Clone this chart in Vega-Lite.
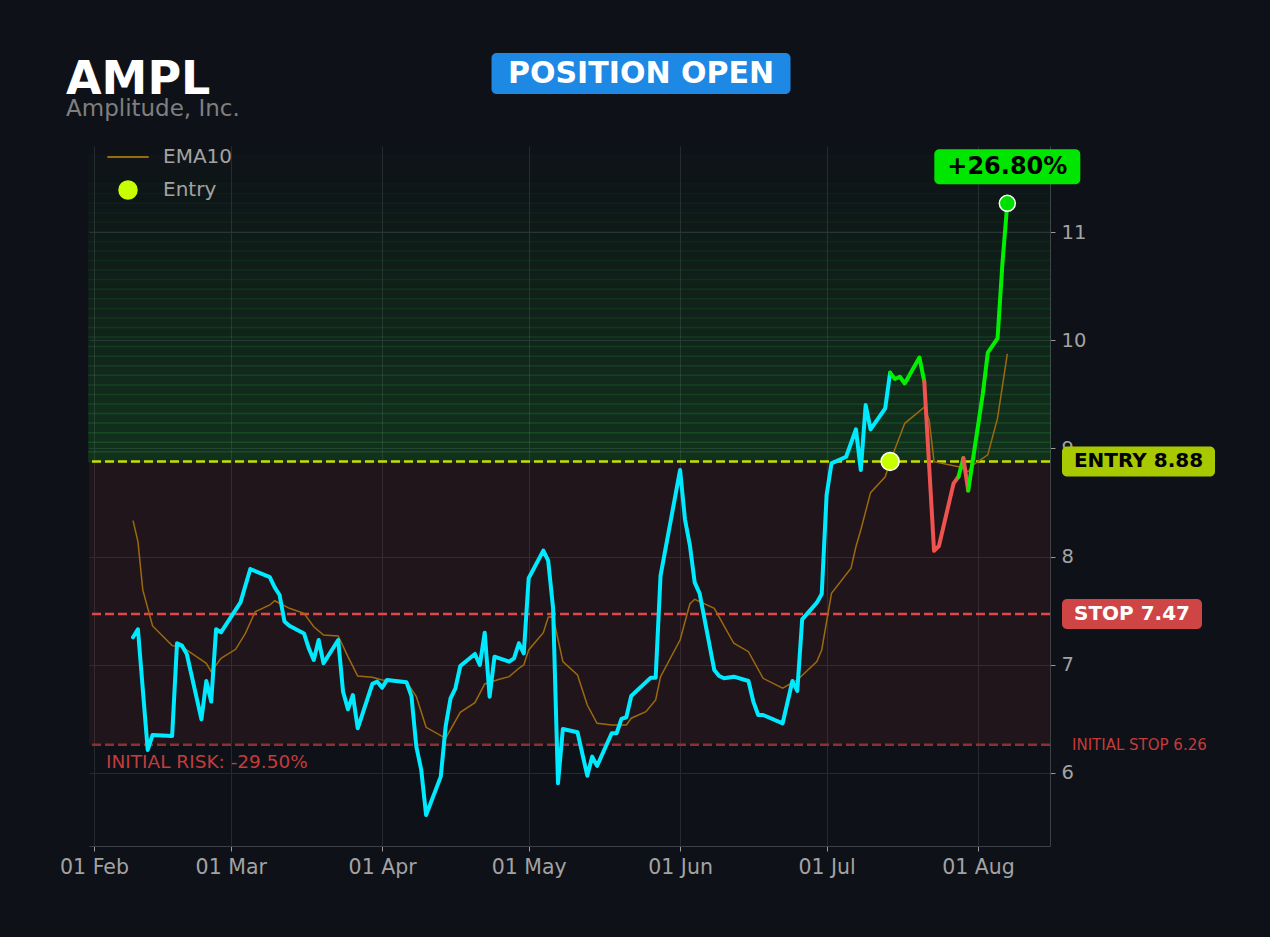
{
  "$schema": "https://vega.github.io/schema/vega-lite/v6.json",
  "width": 961,
  "height": 700,
  "autosize": "none",
  "padding": {"left": 89, "top": 146, "right": 220, "bottom": 91},
  "background": "#0e1117",
  "title": {
    "text": "AMPL",
    "subtitle": "Amplitude, Inc.",
    "anchor": "start",
    "frame": "group",
    "dx": -23,
    "offset": -69,
    "font": "DejaVu Sans",
    "fontSize": 46,
    "fontWeight": "bold",
    "color": "#ffffff",
    "subtitleFont": "DejaVu Sans",
    "subtitleFontSize": 23,
    "subtitleColor": "#7f7f7f",
    "subtitlePadding": -6
  },
  "datasets": {
    "price": [
      {"date": "2025-02-09", "price": 7.254, "seg": "pre"},
      {"date": "2025-02-10", "price": 7.328, "seg": "pre"},
      {"date": "2025-02-12", "price": 6.213, "seg": "pre"},
      {"date": "2025-02-13", "price": 6.351, "seg": "pre"},
      {"date": "2025-02-17", "price": 6.342, "seg": "pre"},
      {"date": "2025-02-18", "price": 7.199, "seg": "pre"},
      {"date": "2025-02-19", "price": 7.177, "seg": "pre"},
      {"date": "2025-02-20", "price": 7.1, "seg": "pre"},
      {"date": "2025-02-23", "price": 6.496, "seg": "pre"},
      {"date": "2025-02-24", "price": 6.85, "seg": "pre"},
      {"date": "2025-02-25", "price": 6.66, "seg": "pre"},
      {"date": "2025-02-26", "price": 7.328, "seg": "pre"},
      {"date": "2025-02-27", "price": 7.3, "seg": "pre"},
      {"date": "2025-03-03", "price": 7.577, "seg": "pre"},
      {"date": "2025-03-05", "price": 7.885, "seg": "pre"},
      {"date": "2025-03-09", "price": 7.81, "seg": "pre"},
      {"date": "2025-03-10", "price": 7.716, "seg": "pre"},
      {"date": "2025-03-11", "price": 7.645, "seg": "pre"},
      {"date": "2025-03-12", "price": 7.4, "seg": "pre"},
      {"date": "2025-03-13", "price": 7.36, "seg": "pre"},
      {"date": "2025-03-16", "price": 7.29, "seg": "pre"},
      {"date": "2025-03-17", "price": 7.15, "seg": "pre"},
      {"date": "2025-03-18", "price": 7.044, "seg": "pre"},
      {"date": "2025-03-19", "price": 7.229, "seg": "pre"},
      {"date": "2025-03-20", "price": 7.014, "seg": "pre"},
      {"date": "2025-03-23", "price": 7.229, "seg": "pre"},
      {"date": "2025-03-24", "price": 6.75, "seg": "pre"},
      {"date": "2025-03-25", "price": 6.589, "seg": "pre"},
      {"date": "2025-03-26", "price": 6.72, "seg": "pre"},
      {"date": "2025-03-27", "price": 6.413, "seg": "pre"},
      {"date": "2025-03-30", "price": 6.823, "seg": "pre"},
      {"date": "2025-03-31", "price": 6.844, "seg": "pre"},
      {"date": "2025-04-01", "price": 6.789, "seg": "pre"},
      {"date": "2025-04-02", "price": 6.86, "seg": "pre"},
      {"date": "2025-04-06", "price": 6.838, "seg": "pre"},
      {"date": "2025-04-07", "price": 6.71, "seg": "pre"},
      {"date": "2025-04-08", "price": 6.243, "seg": "pre"},
      {"date": "2025-04-09", "price": 6.03, "seg": "pre"},
      {"date": "2025-04-10", "price": 5.612, "seg": "pre"},
      {"date": "2025-04-13", "price": 5.966, "seg": "pre"},
      {"date": "2025-04-14", "price": 6.43, "seg": "pre"},
      {"date": "2025-04-15", "price": 6.69, "seg": "pre"},
      {"date": "2025-04-16", "price": 6.783, "seg": "pre"},
      {"date": "2025-04-17", "price": 6.989, "seg": "pre"},
      {"date": "2025-04-20", "price": 7.1, "seg": "pre"},
      {"date": "2025-04-21", "price": 6.998, "seg": "pre"},
      {"date": "2025-04-22", "price": 7.297, "seg": "pre"},
      {"date": "2025-04-23", "price": 6.705, "seg": "pre"},
      {"date": "2025-04-24", "price": 7.075, "seg": "pre"},
      {"date": "2025-04-27", "price": 7.029, "seg": "pre"},
      {"date": "2025-04-28", "price": 7.06, "seg": "pre"},
      {"date": "2025-04-29", "price": 7.199, "seg": "pre"},
      {"date": "2025-04-30", "price": 7.106, "seg": "pre"},
      {"date": "2025-05-01", "price": 7.8, "seg": "pre"},
      {"date": "2025-05-04", "price": 8.055, "seg": "pre"},
      {"date": "2025-05-05", "price": 7.962, "seg": "pre"},
      {"date": "2025-05-06", "price": 7.522, "seg": "pre"},
      {"date": "2025-05-07", "price": 5.905, "seg": "pre"},
      {"date": "2025-05-08", "price": 6.407, "seg": "pre"},
      {"date": "2025-05-11", "price": 6.376, "seg": "pre"},
      {"date": "2025-05-13", "price": 5.975, "seg": "pre"},
      {"date": "2025-05-14", "price": 6.151, "seg": "pre"},
      {"date": "2025-05-15", "price": 6.065, "seg": "pre"},
      {"date": "2025-05-18", "price": 6.367, "seg": "pre"},
      {"date": "2025-05-19", "price": 6.367, "seg": "pre"},
      {"date": "2025-05-20", "price": 6.5, "seg": "pre"},
      {"date": "2025-05-21", "price": 6.515, "seg": "pre"},
      {"date": "2025-05-22", "price": 6.712, "seg": "pre"},
      {"date": "2025-05-26", "price": 6.881, "seg": "pre"},
      {"date": "2025-05-27", "price": 6.881, "seg": "pre"},
      {"date": "2025-05-28", "price": 7.824, "seg": "pre"},
      {"date": "2025-06-01", "price": 8.8, "seg": "pre"},
      {"date": "2025-06-02", "price": 8.345, "seg": "pre"},
      {"date": "2025-06-03", "price": 8.107, "seg": "pre"},
      {"date": "2025-06-04", "price": 7.759, "seg": "pre"},
      {"date": "2025-06-05", "price": 7.66, "seg": "pre"},
      {"date": "2025-06-08", "price": 6.952, "seg": "pre"},
      {"date": "2025-06-09", "price": 6.896, "seg": "pre"},
      {"date": "2025-06-10", "price": 6.875, "seg": "pre"},
      {"date": "2025-06-12", "price": 6.89, "seg": "pre"},
      {"date": "2025-06-15", "price": 6.85, "seg": "pre"},
      {"date": "2025-06-16", "price": 6.66, "seg": "pre"},
      {"date": "2025-06-17", "price": 6.536, "seg": "pre"},
      {"date": "2025-06-18", "price": 6.536, "seg": "pre"},
      {"date": "2025-06-22", "price": 6.459, "seg": "pre"},
      {"date": "2025-06-24", "price": 6.85, "seg": "pre"},
      {"date": "2025-06-25", "price": 6.758, "seg": "pre"},
      {"date": "2025-06-26", "price": 7.42, "seg": "pre"},
      {"date": "2025-06-29", "price": 7.574, "seg": "pre"},
      {"date": "2025-06-30", "price": 7.654, "seg": "pre"},
      {"date": "2025-07-01", "price": 8.569, "seg": "pre"},
      {"date": "2025-07-02", "price": 8.862, "seg": "pre"},
      {"date": "2025-07-05", "price": 8.923, "seg": "pre"},
      {"date": "2025-07-07", "price": 9.176, "seg": "pre"},
      {"date": "2025-07-08", "price": 8.8, "seg": "pre"},
      {"date": "2025-07-09", "price": 9.4, "seg": "pre"},
      {"date": "2025-07-10", "price": 9.176, "seg": "pre"},
      {"date": "2025-07-13", "price": 9.37, "seg": "pre"},
      {"date": "2025-07-14", "price": 9.7, "seg": "pre"},
      {"date": "2025-07-14", "price": 9.7, "seg": "gainA"},
      {"date": "2025-07-15", "price": 9.641, "seg": "gainA"},
      {"date": "2025-07-16", "price": 9.662, "seg": "gainA"},
      {"date": "2025-07-17", "price": 9.6, "seg": "gainA"},
      {"date": "2025-07-20", "price": 9.84, "seg": "gainA"},
      {"date": "2025-07-21", "price": 9.62, "seg": "gainA"},
      {"date": "2025-07-21", "price": 9.62, "seg": "lossA"},
      {"date": "2025-07-23", "price": 8.053, "seg": "lossA"},
      {"date": "2025-07-24", "price": 8.098, "seg": "lossA"},
      {"date": "2025-07-27", "price": 8.677, "seg": "lossA"},
      {"date": "2025-07-28", "price": 8.738, "seg": "lossA"},
      {"date": "2025-07-28", "price": 8.738, "seg": "gainB"},
      {"date": "2025-07-29", "price": 8.91, "seg": "gainB"},
      {"date": "2025-07-29", "price": 8.91, "seg": "lossB"},
      {"date": "2025-07-30", "price": 8.61, "seg": "lossB"},
      {"date": "2025-07-30", "price": 8.61, "seg": "gainC"},
      {"date": "2025-08-02", "price": 9.509, "seg": "gainC"},
      {"date": "2025-08-03", "price": 9.885, "seg": "gainC"},
      {"date": "2025-08-05", "price": 10.017, "seg": "gainC"},
      {"date": "2025-08-06", "price": 10.71, "seg": "gainC"},
      {"date": "2025-08-07", "price": 11.265, "seg": "gainC"}
    ],
    "ema": [
      {"date": "2025-02-09", "price": 8.332},
      {"date": "2025-02-10", "price": 8.138},
      {"date": "2025-02-11", "price": 7.69},
      {"date": "2025-02-13", "price": 7.359},
      {"date": "2025-02-17", "price": 7.177},
      {"date": "2025-02-19", "price": 7.167},
      {"date": "2025-02-24", "price": 7.014},
      {"date": "2025-02-25", "price": 6.936},
      {"date": "2025-02-27", "price": 7.06},
      {"date": "2025-03-02", "price": 7.143},
      {"date": "2025-03-04", "price": 7.29},
      {"date": "2025-03-06", "price": 7.49},
      {"date": "2025-03-09", "price": 7.553},
      {"date": "2025-03-10", "price": 7.592},
      {"date": "2025-03-13", "price": 7.522},
      {"date": "2025-03-16", "price": 7.476},
      {"date": "2025-03-18", "price": 7.352},
      {"date": "2025-03-20", "price": 7.275},
      {"date": "2025-03-23", "price": 7.266},
      {"date": "2025-03-25", "price": 7.075},
      {"date": "2025-03-27", "price": 6.896},
      {"date": "2025-03-30", "price": 6.884},
      {"date": "2025-04-01", "price": 6.86},
      {"date": "2025-04-06", "price": 6.844},
      {"date": "2025-04-08", "price": 6.705},
      {"date": "2025-04-10", "price": 6.422},
      {"date": "2025-04-14", "price": 6.32},
      {"date": "2025-04-17", "price": 6.561},
      {"date": "2025-04-20", "price": 6.65},
      {"date": "2025-04-22", "price": 6.823},
      {"date": "2025-04-25", "price": 6.866},
      {"date": "2025-04-27", "price": 6.89},
      {"date": "2025-04-29", "price": 6.968},
      {"date": "2025-04-30", "price": 6.998},
      {"date": "2025-05-01", "price": 7.137},
      {"date": "2025-05-04", "price": 7.297},
      {"date": "2025-05-05", "price": 7.439},
      {"date": "2025-05-06", "price": 7.445},
      {"date": "2025-05-08", "price": 7.029},
      {"date": "2025-05-11", "price": 6.906},
      {"date": "2025-05-13", "price": 6.628},
      {"date": "2025-05-15", "price": 6.459},
      {"date": "2025-05-18", "price": 6.444},
      {"date": "2025-05-21", "price": 6.444},
      {"date": "2025-05-22", "price": 6.506},
      {"date": "2025-05-25", "price": 6.567},
      {"date": "2025-05-27", "price": 6.675},
      {"date": "2025-05-28", "price": 6.89},
      {"date": "2025-06-01", "price": 7.229},
      {"date": "2025-06-03", "price": 7.562},
      {"date": "2025-06-04", "price": 7.605},
      {"date": "2025-06-08", "price": 7.522},
      {"date": "2025-06-12", "price": 7.199},
      {"date": "2025-06-15", "price": 7.121},
      {"date": "2025-06-18", "price": 6.875},
      {"date": "2025-06-22", "price": 6.783},
      {"date": "2025-06-25", "price": 6.86},
      {"date": "2025-06-29", "price": 7.029},
      {"date": "2025-06-30", "price": 7.137},
      {"date": "2025-07-02", "price": 7.661},
      {"date": "2025-07-06", "price": 7.892},
      {"date": "2025-07-07", "price": 8.091},
      {"date": "2025-07-08", "price": 8.246},
      {"date": "2025-07-10", "price": 8.591},
      {"date": "2025-07-13", "price": 8.738},
      {"date": "2025-07-14", "price": 8.877},
      {"date": "2025-07-17", "price": 9.232},
      {"date": "2025-07-21", "price": 9.38},
      {"date": "2025-07-22", "price": 9.263},
      {"date": "2025-07-23", "price": 8.877},
      {"date": "2025-07-28", "price": 8.831},
      {"date": "2025-07-30", "price": 8.785},
      {"date": "2025-07-31", "price": 8.847},
      {"date": "2025-08-03", "price": 8.94},
      {"date": "2025-08-05", "price": 9.279},
      {"date": "2025-08-07", "price": 9.874}
    ],
    "zones": [
      {"zone": "risk", "lo": 6.26, "hi": 8.88},
      {"zone": "reward", "lo": 8.88, "hi": 8.968},
      {"zone": "reward", "lo": 8.968, "hi": 9.057},
      {"zone": "reward", "lo": 9.057, "hi": 9.145},
      {"zone": "reward", "lo": 9.145, "hi": 9.234},
      {"zone": "reward", "lo": 9.234, "hi": 9.322},
      {"zone": "reward", "lo": 9.322, "hi": 9.41},
      {"zone": "reward", "lo": 9.41, "hi": 9.499},
      {"zone": "reward", "lo": 9.499, "hi": 9.587},
      {"zone": "reward", "lo": 9.587, "hi": 9.676},
      {"zone": "reward", "lo": 9.676, "hi": 9.764},
      {"zone": "reward", "lo": 9.764, "hi": 9.852},
      {"zone": "reward", "lo": 9.852, "hi": 9.941},
      {"zone": "reward", "lo": 9.941, "hi": 10.029},
      {"zone": "reward", "lo": 10.029, "hi": 10.118},
      {"zone": "reward", "lo": 10.118, "hi": 10.206},
      {"zone": "reward", "lo": 10.206, "hi": 10.294},
      {"zone": "reward", "lo": 10.294, "hi": 10.383},
      {"zone": "reward", "lo": 10.383, "hi": 10.471},
      {"zone": "reward", "lo": 10.471, "hi": 10.56},
      {"zone": "reward", "lo": 10.56, "hi": 10.648},
      {"zone": "reward", "lo": 10.648, "hi": 10.736},
      {"zone": "reward", "lo": 10.736, "hi": 10.825},
      {"zone": "reward", "lo": 10.825, "hi": 10.913},
      {"zone": "reward", "lo": 10.913, "hi": 11.002},
      {"zone": "reward", "lo": 11.002, "hi": 11.09},
      {"zone": "reward", "lo": 11.09, "hi": 11.178},
      {"zone": "reward", "lo": 11.178, "hi": 11.267},
      {"zone": "reward", "lo": 11.267, "hi": 11.355},
      {"zone": "reward", "lo": 11.355, "hi": 11.444},
      {"zone": "reward", "lo": 11.444, "hi": 11.532},
      {"zone": "reward", "lo": 11.532, "hi": 11.62},
      {"zone": "reward", "lo": 11.62, "hi": 11.709},
      {"zone": "reward", "lo": 11.709, "hi": 11.795}
    ],
    "levels": [
      {"level": "entry", "price": 8.88, "label": "ENTRY 8.88"},
      {"level": "stop", "price": 7.47, "label": "STOP 7.47"},
      {"level": "initial", "price": 6.26, "label": "INITIAL STOP 6.26"}
    ],
    "trade": [
      {"kind": "entry", "date": "2025-07-14", "price": 8.88, "label": "Entry"},
      {"kind": "last", "date": "2025-08-07", "price": 11.265, "label": "+26.80%"}
    ],
    "notes": [
      {"note": "status", "label": "POSITION OPEN"},
      {"note": "risk", "label": "INITIAL RISK: -29.50%"}
    ]
  },
  "layer": [
    {
      "data": {"name": "zones"},
      "transform": [{"filter": "datum.zone === 'risk'"}],
      "mark": {"type": "rect", "fill": "#ff5252", "opacity": 0.08},
      "encoding": {
        "y": {"field": "lo", "type": "quantitative", "title": null},
        "y2": {"field": "hi"}
      }
    },
    {
      "data": {"name": "zones"},
      "transform": [{"filter": "datum.zone === 'reward'"}],
      "mark": {"type": "rect", "fill": "#26d93a", "stroke": "#2ee046", "strokeWidth": 1.5},
      "encoding": {
        "y": {"field": "lo", "type": "quantitative", "title": null},
        "y2": {"field": "hi"},
        "opacity": {"field": "lo", "type": "quantitative", "scale": {"domain": [8.88, 11.8], "range": [0.16, 0]}, "legend": null}
      }
    },
    {
      "data": {"name": "levels"},
      "transform": [{"filter": "datum.level === 'initial'"}],
      "mark": {"type": "rule", "stroke": "#8f2f31", "strokeWidth": 2.5, "strokeDash": [9, 4]},
      "encoding": {"y": {"field": "price", "type": "quantitative", "title": null}}
    },
    {
      "data": {"name": "levels"},
      "transform": [{"filter": "datum.level === 'stop'"}],
      "mark": {"type": "rule", "stroke": "#e04848", "strokeWidth": 2.5, "strokeDash": [9, 4]},
      "encoding": {"y": {"field": "price", "type": "quantitative", "title": null}}
    },
    {
      "data": {"name": "levels"},
      "transform": [{"filter": "datum.level === 'entry'"}],
      "mark": {"type": "rule", "stroke": "#c5e000", "strokeWidth": 2.5, "strokeDash": [9, 4]},
      "encoding": {"y": {"field": "price", "type": "quantitative", "title": null}}
    },
    {
      "data": {"name": "ema"},
      "mark": {"type": "line", "strokeWidth": 1.5},
      "encoding": {
        "x": {"field": "date", "type": "temporal", "title": null},
        "y": {"field": "price", "type": "quantitative", "title": null},
        "color": {
          "datum": "EMA10",
          "type": "nominal",
          "scale": {"domain": ["EMA10", "Entry"], "range": ["#9c6a0e", "#c8ff00"]},
          "legend": {
            "title": null,
            "orient": "none",
            "legendX": 29,
            "legendY": 1,
            "padding": 0,
            "labelFont": "DejaVu Sans",
            "labelFontSize": 20,
            "labelColor": "#a3a3a3",
            "labelOffset": 25,
            "rowPadding": 11,
            "symbolSize": 324,
            "encode": {
              "symbols": {
                "update": {
                  "shape": {"signal": "datum.value === 'EMA10' ? 'M-2.3,0H2.3' : 'circle'"},
                  "fill": {"signal": "datum.value === 'EMA10' ? 'transparent' : '#c8ff00'"},
                  "stroke": {"signal": "datum.value === 'EMA10' ? '#9c6a0e' : '#ffffff'"},
                  "strokeWidth": {"signal": "datum.value === 'EMA10' ? 2 : 1.5"},
                  "opacity": {"value": 1}
                }
              }
            }
          }
        }
      }
    },
    {
      "data": {"name": "price"},
      "mark": {"type": "line", "strokeWidth": 4, "strokeJoin": "round", "strokeCap": "round"},
      "encoding": {
        "x": {
          "field": "date",
          "type": "temporal",
          "title": null,
          "scale": {
            "type": "utc",
            "domain": [
              {"year": 2025, "month": 1, "date": 30, "hours": 23, "minutes": 30, "utc": true},
              {"year": 2025, "month": 8, "date": 15, "hours": 17, "minutes": 45, "utc": true}
            ]
          },
          "axis": {
            "orient": "bottom",
            "format": "%d %b",
            "tickCount": "month",
            "labelFlush": false,
            "labelFont": "DejaVu Sans",
            "labelFontSize": 20.5,
            "labelColor": "#a3a3a3",
            "labelPadding": 6,
            "tickColor": "#9a9a9a",
            "tickSize": 5,
            "domainColor": "#3d4047",
            "grid": true,
            "gridColor": "#262930"
          }
        },
        "y": {
          "field": "price",
          "type": "quantitative",
          "title": null,
          "scale": {"domain": [5.325, 11.795], "nice": false, "zero": false},
          "axis": {
            "orient": "right",
            "values": [6, 7, 8, 9, 10, 11],
            "format": "d",
            "labelFont": "DejaVu Sans",
            "labelFontSize": 19.5,
            "labelColor": "#a3a3a3",
            "labelPadding": 6,
            "tickColor": "#9a9a9a",
            "tickSize": 5,
            "domainColor": "#3d4047",
            "grid": true,
            "gridColor": "#262930"
          }
        },
        "stroke": {
          "field": "seg",
          "type": "nominal",
          "scale": {
            "domain": ["pre", "gainA", "lossA", "gainB", "lossB", "gainC"],
            "range": ["#00eaff", "#00f000", "#ef5350", "#00f000", "#ef5350", "#00f000"]
          },
          "legend": null
        }
      }
    },
    {
      "data": {"name": "trade"},
      "transform": [{"filter": "datum.kind === 'entry'"}],
      "mark": {"type": "point", "filled": true, "size": 324, "stroke": "#ffffff", "strokeWidth": 1.5, "opacity": 1},
      "encoding": {
        "x": {"field": "date", "type": "temporal", "title": null},
        "y": {"field": "price", "type": "quantitative", "title": null},
        "color": {"datum": "Entry", "type": "nominal"}
      }
    },
    {
      "data": {"name": "trade"},
      "transform": [{"filter": "datum.kind === 'last'"}],
      "mark": {"type": "point", "filled": true, "fill": "#00e000", "size": 256, "stroke": "#ffffff", "strokeWidth": 1.5, "opacity": 1},
      "encoding": {
        "x": {"field": "date", "type": "temporal", "title": null},
        "y": {"field": "price", "type": "quantitative", "title": null}
      }
    },
    {
      "data": {"name": "trade"},
      "transform": [{"filter": "datum.kind === 'last'"}],
      "mark": {"type": "rect", "width": 146, "height": 35, "cornerRadius": 5, "fill": "#00e600", "yOffset": -36.5},
      "encoding": {
        "x": {"field": "date", "type": "temporal", "title": null},
        "y": {"field": "price", "type": "quantitative", "title": null}
      }
    },
    {
      "data": {"name": "trade"},
      "transform": [{"filter": "datum.kind === 'last'"}],
      "mark": {"type": "text", "font": "DejaVu Sans", "fontSize": 24, "fontWeight": "bold", "color": "#000000", "align": "center", "baseline": "middle", "dy": -36.5},
      "encoding": {
        "x": {"field": "date", "type": "temporal", "title": null},
        "y": {"field": "price", "type": "quantitative", "title": null},
        "text": {"field": "label"}
      }
    },
    {
      "data": {"name": "notes"},
      "transform": [{"filter": "datum.note === 'status'"}],
      "mark": {"type": "rect", "width": 299, "height": 41, "cornerRadius": 5, "fill": "#1e88e5"},
      "encoding": {
        "x": {"datum": {"year": 2025, "month": 5, "date": 24, "utc": true}, "type": "temporal"},
        "y": {"datum": 12.465, "type": "quantitative"}
      }
    },
    {
      "data": {"name": "notes"},
      "transform": [{"filter": "datum.note === 'status'"}],
      "mark": {"type": "text", "font": "DejaVu Sans", "fontSize": 30, "fontWeight": "bold", "color": "#ffffff", "align": "center", "baseline": "middle"},
      "encoding": {
        "x": {"datum": {"year": 2025, "month": 5, "date": 24, "utc": true}, "type": "temporal"},
        "y": {"datum": 12.465, "type": "quantitative"},
        "text": {"field": "label"}
      }
    },
    {
      "data": {"name": "levels"},
      "transform": [{"filter": "datum.level === 'entry'"}],
      "mark": {"type": "rect", "width": 153, "height": 30, "cornerRadius": 5, "fill": "#a8c800", "xOffset": 88.5},
      "encoding": {
        "x": {"datum": {"year": 2025, "month": 8, "date": 15, "hours": 17, "minutes": 45, "utc": true}, "type": "temporal"},
        "y": {"field": "price", "type": "quantitative", "title": null}
      }
    },
    {
      "data": {"name": "levels"},
      "transform": [{"filter": "datum.level === 'entry'"}],
      "mark": {"type": "text", "font": "DejaVu Sans", "fontSize": 20, "fontWeight": "bold", "color": "#000000", "align": "center", "baseline": "middle", "dx": 88.5},
      "encoding": {
        "x": {"datum": {"year": 2025, "month": 8, "date": 15, "hours": 17, "minutes": 45, "utc": true}, "type": "temporal"},
        "y": {"field": "price", "type": "quantitative", "title": null},
        "text": {"field": "label"}
      }
    },
    {
      "data": {"name": "levels"},
      "transform": [{"filter": "datum.level === 'stop'"}],
      "mark": {"type": "rect", "width": 140, "height": 30, "cornerRadius": 5, "fill": "#cf4444", "xOffset": 82},
      "encoding": {
        "x": {"datum": {"year": 2025, "month": 8, "date": 15, "hours": 17, "minutes": 45, "utc": true}, "type": "temporal"},
        "y": {"field": "price", "type": "quantitative", "title": null}
      }
    },
    {
      "data": {"name": "levels"},
      "transform": [{"filter": "datum.level === 'stop'"}],
      "mark": {"type": "text", "font": "DejaVu Sans", "fontSize": 20, "fontWeight": "bold", "color": "#ffffff", "align": "center", "baseline": "middle", "dx": 82},
      "encoding": {
        "x": {"datum": {"year": 2025, "month": 8, "date": 15, "hours": 17, "minutes": 45, "utc": true}, "type": "temporal"},
        "y": {"field": "price", "type": "quantitative", "title": null},
        "text": {"field": "label"}
      }
    },
    {
      "data": {"name": "levels"},
      "transform": [{"filter": "datum.level === 'initial'"}],
      "mark": {"type": "text", "font": "DejaVu Sans", "fontSize": 15, "color": "#c43c3c", "align": "left", "baseline": "middle", "dx": 22},
      "encoding": {
        "x": {"datum": {"year": 2025, "month": 8, "date": 15, "hours": 17, "minutes": 45, "utc": true}, "type": "temporal"},
        "y": {"field": "price", "type": "quantitative", "title": null},
        "text": {"field": "label"}
      }
    },
    {
      "data": {"name": "notes"},
      "transform": [{"filter": "datum.note === 'risk'"}],
      "mark": {"type": "text", "font": "DejaVu Sans", "fontSize": 18.5, "color": "#c43c3c", "align": "left", "baseline": "middle", "dx": 17, "dy": 17},
      "encoding": {
        "x": {"datum": {"year": 2025, "month": 1, "date": 30, "hours": 23, "minutes": 30, "utc": true}, "type": "temporal"},
        "y": {"datum": 6.26, "type": "quantitative"},
        "text": {"field": "label"}
      }
    }
  ],
  "config": {
    "view": {"stroke": null},
    "font": "DejaVu Sans"
  }
}
